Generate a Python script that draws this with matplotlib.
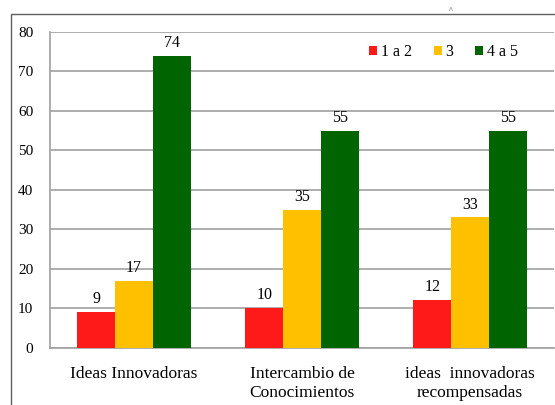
import matplotlib
matplotlib.use("Agg")
import matplotlib.pyplot as plt
import numpy as np
from matplotlib.patches import Rectangle

categories = ["Ideas Innovadoras", "Intercambio de\nConocimientos", "ideas  innovadoras\nrecompensadas"]
series_names = ["1 a 2", "3", "4 a 5"]
vals_1a2 = [9, 10, 12]
vals_3 = [17, 35, 33]
vals_4a5 = [74, 55, 55]
colors = ["#FF1A1A", "#FFC000", "#006400"]

plt.rcParams['font.family'] = ['Liberation Serif', 'DejaVu Serif']

fig = plt.figure(figsize=(5.55, 4.05), dpi=100)
ax = fig.add_axes([50/555, 57.3/405, 504/555, 315.7/405])

# outer chart frame
fig.patches.append(Rectangle((10.5/555, -0.1), 1.2, (1 - 13.5/405) + 0.1, transform=fig.transFigure,
                             fill=False, edgecolor="#606060", linewidth=1.0))
fig.text(451/555, 1 - 11/405, "^", fontsize=6, ha="center", va="center", color="#333333")

x = np.arange(len(categories))
w = 0.2244
for i, (vals, name, c) in enumerate(zip([vals_1a2, vals_3, vals_4a5], series_names, colors)):
    pos = x + (i - 1) * w
    ax.bar(pos, vals, w, color=c, label=name, zorder=3)
    for xp, v in zip(pos, vals):
        ax.annotate(str(v), (xp, v), xytext=(0, 3.5), textcoords="offset points",
                    ha="center", va="bottom", fontsize=11.5)

ax.set_xlim(-0.5, 2.5)
ax.set_ylim(0, 80)
ax.set_yticks(range(0, 81, 10))
ax.yaxis.grid(True, color="#A0A0A0", linewidth=1.2, zorder=0)
ax.set_xticks(x)
ax.set_xticklabels(categories, fontsize=12.5, linespacing=1.25)
ax.tick_params(axis="both", length=0)
ax.tick_params(axis="y", labelsize=11, pad=12)
ax.tick_params(axis="x", pad=13)
for s in ["top", "right"]:
    ax.spines[s].set_visible(False)
for s in ["left", "bottom"]:
    ax.spines[s].set_color("#A0A0A0")
    ax.spines[s].set_linewidth(1.2)

leg = ax.legend(loc="center right", bbox_to_anchor=(0.9286, 0.9365), borderaxespad=0, ncol=3,
                frameon=False, handlelength=0.5, handleheight=0.5, handletextpad=0.25,
                columnspacing=1.35, fontsize=11.5, borderpad=0)

fig.savefig("out.png", dpi=100)
